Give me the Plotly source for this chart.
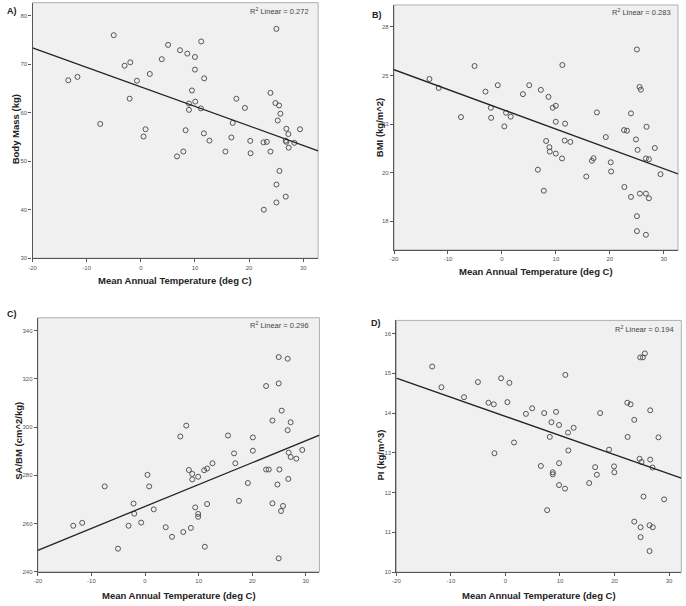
import numpy as np
import plotly.graph_objects as go

# ---------------- data ----------------
temp_a = [-13.4, -11.7, -7.5, -5.0, -3.0, -1.95, -2.07, -0.72, 0.5, 0.87, 1.66, 3.87, 5.03, 6.68, 7.23,
          7.85, 8.27, 8.58, 8.89, 8.89, 9.44, 9.99, 9.99, 10.05, 11.15, 11.09, 11.7, 11.64, 12.68, 15.62,
          16.72, 16.96, 17.64, 19.23, 20.21, 20.27, 22.66, 22.72, 23.27, 23.94, 23.94, 25.04, 24.86, 25.53,
          25.29, 25.78, 25.6, 25.04, 25.04, 26.88, 26.76, 26.88, 27.25, 27.31, 28.35, 29.39, 26.76]
body_mass = [66.7, 67.4, 57.7, 76.0, 69.7, 70.4, 62.9, 66.6, 55.1, 56.6, 68.0, 71.05, 74.0, 51.0, 72.9,
             52.0, 56.4, 72.2, 61.9, 60.6, 64.6, 71.5, 68.9, 62.3, 74.7, 60.9, 67.1, 55.75, 54.25, 52.0,
             54.9, 57.9, 62.9, 61.0, 54.2, 51.65, 53.9, 40.0, 54.0, 64.1, 52.0, 77.3, 62.0, 61.5,
             58.4, 59.8, 48.0, 45.2, 41.5, 56.7, 54.25, 54.0, 55.6, 52.8, 53.8, 56.6, 42.7]

temp_b = [-13.43, -11.71, -7.59, -5.07, -3.05, -2.06, -2.0, -0.77, 0.45, 0.76, 1.62, 3.89, 5.06, 6.66, 7.21,
          7.76, 8.19, 8.62, 8.8, 8.87, 9.42, 9.98, 9.98, 9.98, 11.2, 11.14, 11.7, 11.63, 12.68, 15.63,
          16.67, 16.98, 17.6, 19.25, 20.17, 20.23, 22.63, 22.69, 23.18, 23.92, 23.92, 25.02, 24.84, 25.14,
          25.5, 25.75, 25.57, 25.02, 25.02, 26.8, 26.68, 27.24, 26.68, 27.24, 26.68, 28.34, 29.39]
bmi = [24.82, 24.36, 22.86, 25.49, 24.17, 23.34, 22.82, 24.5, 22.38, 23.08, 22.88, 24.04, 24.5, 20.15, 24.26,
       19.07, 21.63, 23.9, 21.31, 21.08, 23.34, 23.44, 22.62, 20.98, 25.54, 20.73, 22.52, 21.65, 21.58, 19.8,
       20.61, 20.74, 23.1, 21.83, 20.53, 20.06, 22.19, 19.26, 22.16, 23.05, 18.75, 26.34, 21.71, 21.17,
       24.41, 24.27, 18.92, 17.76, 16.99, 22.36, 20.73, 20.69, 18.92, 18.68, 16.8, 21.27, 19.92]

temp_c = [-13.39, -11.72, -7.52, -5.04, -3.07, -2.14, -2.01, -0.72, 0.46, 0.77, 1.63, 3.86, 5.03, 6.58, 7.13,
          7.69, 8.18, 8.55, 8.8, 8.8, 9.36, 9.91, 9.91, 9.91, 11.15, 11.03, 11.58, 11.58, 12.57, 15.48,
          16.6, 16.84, 17.52, 19.18, 20.11, 20.11, 22.58, 22.58, 23.08, 23.76, 23.76, 24.93, 24.93, 24.69,
          25.06, 24.93, 25.49, 25.36, 25.74, 26.6, 26.6, 26.79, 26.73, 27.16, 27.16, 28.21, 29.32]
sa_bm = [259.1, 260.3, 275.4, 249.6, 259.1, 268.3, 264.1, 260.4, 280.2, 275.4, 265.9, 258.5, 254.5, 296.1, 256.5,
         300.6, 282.2, 258.2, 280.6, 278.3, 266.7, 279.4, 264.0, 262.8, 250.4, 282.1, 282.8, 268.1, 285.0, 296.5,
         289.1, 285.0, 269.4, 276.8, 295.7, 290.2, 317.0, 282.4, 282.4, 302.7, 268.4, 329.0, 318.1, 276.2,
         282.4, 245.6, 306.8, 265.2, 267.3, 328.3, 298.7, 289.4, 278.5, 302.0, 287.6, 286.9, 290.5]

temp_d = [-13.44, -11.74, -7.6, -5.05, -3.11, -2.14, -2.02, -0.8, 0.35, 0.72, 1.57, 3.75, 4.9, 6.49, 7.1,
          7.64, 8.13, 8.43, 8.68, 8.68, 9.28, 9.83, 9.83, 9.83, 10.98, 10.92, 11.47, 11.53, 12.5, 15.36,
          16.45, 16.76, 17.36, 19.0, 19.91, 19.97, 22.34, 22.4, 22.95, 23.62, 23.62, 24.71, 24.59, 24.78,
          24.78, 25.2, 24.96, 25.32, 25.56, 26.54, 26.54, 26.42, 26.42, 26.96, 27.02, 28.06, 29.09]
pi_index = [15.17, 14.65, 14.4, 14.78, 14.26, 14.22, 12.99, 14.875, 14.275, 14.76, 13.26, 13.98, 14.12, 12.67, 14.0,
            11.56, 13.4, 13.77, 12.51, 12.46, 14.03, 13.7, 12.74, 12.19, 14.96, 12.1, 13.51, 13.06, 13.63, 12.24,
            12.64, 12.45, 14.0, 13.08, 12.66, 12.51, 14.26, 13.4, 14.22, 13.83, 11.27, 15.4, 12.85, 10.88,
            11.13, 15.4, 12.77, 11.9, 15.5, 14.07, 12.83, 11.18, 10.53, 12.63, 11.13, 13.39, 11.83]

x_ticks = [-20, -10, 0, 10, 20, 30]
ticks_a = [30, 40, 50, 60, 70, 80]
ticks_b = [17.5, 20, 22.5, 25, 27.5]
ticks_b_text = ["18", "20", "23", "25", "28"]
ticks_c = [240, 260, 280, 300, 320, 340]
ticks_d = [10, 11, 12, 13, 14, 15, 16]

r2_labels = ["0.272", "0.283", "0.296", "0.194"]
panel_labels = ["A)", "B)", "C)", "D)"]
y_titles = ["Body Mass (kg)", "BMI (kg/m^2)", "SA/BM (cm^2/kg)", "PI (kg/m^3)"]
x_title = "Mean Annual Temperature (deg C)"

# ---------------- layout ----------------
W, H = 686, 606
FONT = "Liberation Sans, Arial, sans-serif"

panels = [
    dict(x=temp_a, y=body_mass, box=(28.7, 316, 2.7, 259.5), xr=[-20, 32.75], yr=[30, 82.7],
         tv=ticks_a, tt=[str(v) for v in ticks_a],
         ytitle_pos=(11, 130), xtitle_pos=(172, 281.5), lab_pos=(8, 11), r2_pos=(309, 11)),
    dict(x=temp_b, y=bmi, box=(392.3, 678, 5, 251.2), xr=[-20, 32.64], yr=[16.02, 28.63],
         tv=ticks_b, tt=ticks_b_text,
         ytitle_pos=(378, 128), xtitle_pos=(535.5, 273.3), lab_pos=(375.5, 15), r2_pos=(673, 12)),
    dict(x=temp_c, y=sa_bm, box=(34, 317.3, 319.3, 574.7), xr=[-20, 32.53], yr=[240, 345.3],
         tv=ticks_c, tt=[str(v) for v in ticks_c],
         ytitle_pos=(15, 443), xtitle_pos=(175.7, 598.5), lab_pos=(8, 316), r2_pos=(309, 327)),
    dict(x=temp_d, y=pi_index, box=(394.7, 681.3, 322, 575), xr=[-20, 32.25], yr=[10, 16.33],
         tv=ticks_d, tt=[str(v) for v in ticks_d],
         ytitle_pos=(379, 457), xtitle_pos=(538, 598.3), lab_pos=(374.5, 325), r2_pos=(676, 331)),
]

fig = go.Figure()
layout = dict(width=W, height=H, margin=dict(l=0, r=0, t=0, b=0, pad=0),
              paper_bgcolor="white", plot_bgcolor="#f0f0f0", showlegend=False,
              font=dict(family=FONT, color="#333"))
annotations = []
shapes = []


def ann(text, px, py, size, color, xanchor="center", angle=0):
    return dict(text=text, x=px / W, y=1 - py / H, xref="paper", yref="paper", showarrow=False,
                xanchor=xanchor, yanchor="middle", textangle=angle,
                font=dict(size=size, color=color, family=FONT))


for i, p in enumerate(panels):
    n = "" if i == 0 else str(i + 1)
    xa, ya = "x" + n, "y" + n
    l, r, t, b = p["box"]
    common = dict(showgrid=False, zeroline=False, showline=True, linecolor="#555", linewidth=1.2,
                  ticks="outside", ticklen=3, tickcolor="#555",
                  tickfont=dict(size=6, color="#555", family=FONT))
    layout["xaxis" + n] = dict(domain=[l / W, r / W], range=p["xr"], anchor=ya,
                               tickvals=x_ticks, ticktext=[str(v) for v in x_ticks], **common)
    layout["yaxis" + n] = dict(domain=[1 - b / H, 1 - t / H], range=p["yr"], anchor=xa,
                               tickvals=p["tv"], ticktext=p["tt"], **common)
    shapes.append(dict(type="rect", xref=xa + " domain", yref=ya + " domain", x0=0, x1=1, y0=0, y1=1,
                       line=dict(color="#b0b0b0", width=1), layer="below"))
    fig.add_trace(go.Scatter(x=p["x"], y=p["y"], mode="markers", xaxis=xa, yaxis=ya,
                             marker=dict(symbol="circle-open", size=5, color="#555",
                                         line=dict(width=1, color="#555")),
                             hoverinfo="x+y"))
    slope, icpt = np.polyfit(np.array(p["x"]), np.array(p["y"]), 1)
    fx = np.array(p["xr"])
    fig.add_trace(go.Scatter(x=fx, y=icpt + slope * fx, mode="lines", xaxis=xa, yaxis=ya,
                             line=dict(color="#222", width=1.3), hoverinfo="skip"))
    yx, yy = p["ytitle_pos"]
    annotations.append(ann("<b>" + y_titles[i] + "</b>", yx, yy, 9.5, "#222", angle=-90))
    tx, ty = p["xtitle_pos"]
    annotations.append(ann("<b>" + x_title + "</b>", tx, ty, 9.5, "#222"))
    lx, ly = p["lab_pos"]
    annotations.append(ann("<b>" + panel_labels[i] + "</b>", lx, ly, 9, "#222"))
    rx, ry = p["r2_pos"]
    annotations.append(ann("R<sup>2</sup> Linear = " + r2_labels[i], rx, ry, 7.5, "#444", xanchor="right"))

layout["annotations"] = annotations
layout["shapes"] = shapes
fig.update_layout(**layout)
fig.write_html("out.html", config={"displayModeBar": False},
               post_script="document.body.style.margin='0';document.body.style.overflow='hidden';")
